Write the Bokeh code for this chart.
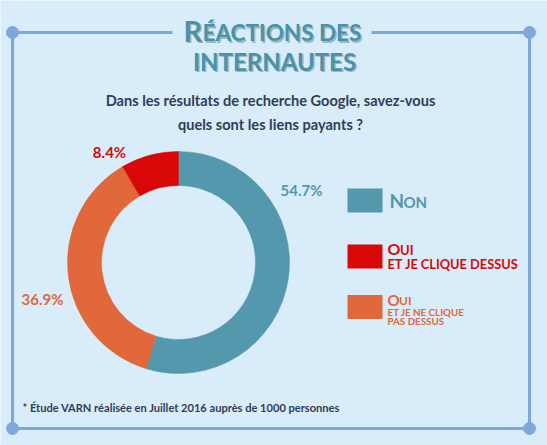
import math
from bokeh.plotting import figure
from bokeh.models import Range1d, ColumnDataSource
from bokeh.core.properties import value
from bokeh.embed import file_html
from bokeh.resources import INLINE

# ---- data ----
categories = ["Non", "Oui, et je ne clique pas dessus", "Oui, et je clique dessus"]
percentages = [54.7, 36.9, 8.4]
colors = ["#5398ac", "#e0683a", "#d90808"]

title_lines = ["RÉACTIONS DES", "INTERNAUTES"]
subtitle_lines = ["Dans les résultats de recherche Google, savez-vous",
                  "quels sont les liens payants ?"]
footnote = "* Étude VARN réalisée en Juillet 2016 auprès de 1000 personnes"

# ---- layout helpers (reference pixel coordinates, y downwards) ----
W, H = 547, 445
K = 0.38  # baseline compensation (fraction of font size)
def Y(y):
    return H - y

BG = "#d8ecfa"
FRAME = "#7ea8dc"
DARK = "#313d58"
FONT = "Lato"

p = figure(width=W, height=H, x_range=Range1d(0, W), y_range=Range1d(0, H),
           output_backend="svg", toolbar_location=None, min_border=0)
p.axis.visible = False
p.grid.visible = False
p.outline_line_color = None
p.background_fill_color = BG
p.border_fill_color = BG

def t(x, y, s, size, color, align="left", alpha=1.0):
    p.text(x=[x], y=[Y(y - K * size)], text=[s], text_font=value(FONT),
           text_font_style="bold", text_font_size=f"{size}px",
           text_color=color, text_alpha=alpha, text_align=align,
           text_baseline="alphabetic")

# ---- frame ----
fx0, fx1, fy0, fy1 = 12, 529, 32, 428
p.segment(x0=[fx0, fx0, fx1, fx0, 371], y0=[Y(fy0), Y(fy1), Y(fy0), Y(fy0), Y(fy0)],
          x1=[fx0, fx1, fx1, 172, fx1], y1=[Y(fy1), Y(fy1), Y(fy1), Y(fy0), Y(fy0)],
          line_color=FRAME, line_width=3)
p.scatter(x=[fx0, fx1, fx0, fx1], y=[Y(fy0), Y(fy0), Y(fy1), Y(fy1)],
          size=12, color=FRAME)

# ---- title (small caps, with shadow) ----
TEAL_T = "#4a93a6"
SHADOW = "#6f8794"
def title_text(x, y, s, size, align="left"):
    t(x + 1.5, y + 1.5, s, size, SHADOW, align, 0.55)
    t(x, y, s, size, TEAL_T, align)

title_text(183, 41, title_lines[0][0], 29)
title_text(202, 41, title_lines[0][1:], 22.5)
title_text(274, 70, title_lines[1], 24, align="center")

# ---- subtitle ----
for i, line in enumerate(subtitle_lines):
    t(270, 106 + 24 * i, line, 14.6, DARK, align="center")

# ---- donut ----
cx, cy, r_in, r_out = 178, 262, 77, 111
cum = [0.0]
for v in percentages:
    cum.append(cum[-1] + v)
total = cum[-1]
starts = [math.pi / 2 - 2 * math.pi * c / total for c in cum[:-1]]
ends = [math.pi / 2 - 2 * math.pi * c / total for c in cum[1:]]
src = ColumnDataSource(dict(start=starts, end=ends, color=colors, cat=categories))
p.annular_wedge(x=cx, y=Y(cy), inner_radius=r_in, outer_radius=r_out,
                start_angle="start", end_angle="end", direction="clock",
                fill_color="color", line_color="color", line_width=0.5, source=src)

# value labels (hand placed)
label_pos = [(301, 195), (42, 304), (109, 157)]
for (lx, ly), v, c in zip(label_pos, percentages, colors):
    t(lx, ly, f"{v}%", 15, c, align="center")

# ---- legend ----
legend_sq_y = [200, 306.5, 256]
p.rect(x=[364.5] * 3, y=[Y(v) for v in legend_sq_y], width=35, height=24,
       fill_color=colors, line_color=None)

# Non
t(389, 207, "N", 19, colors[0])
t(403, 207, "ON", 15, colors[0])
# Oui et je clique dessus
t(387, 254, "O", 16, colors[2])
t(399.5, 254, "UI", 13, colors[2])
t(387, 268, "ET JE CLIQUE DESSUS", 12.8, colors[2])
# Oui et je ne clique pas dessus
t(387, 305, "O", 15, colors[1])
t(398.5, 305, "UI", 12, colors[1])
t(387, 315, "ET JE  NE CLIQUE", 9.8, colors[1])
t(387, 324, "PAS DESSUS", 9.8, colors[1])

# ---- footnote ----
t(22, 411, footnote, 11.1, DARK)

html = file_html(p, INLINE)
html = html.replace("<body>", f'<body style="background-color:{BG};">', 1)
open("out.html", "w").write(html)
